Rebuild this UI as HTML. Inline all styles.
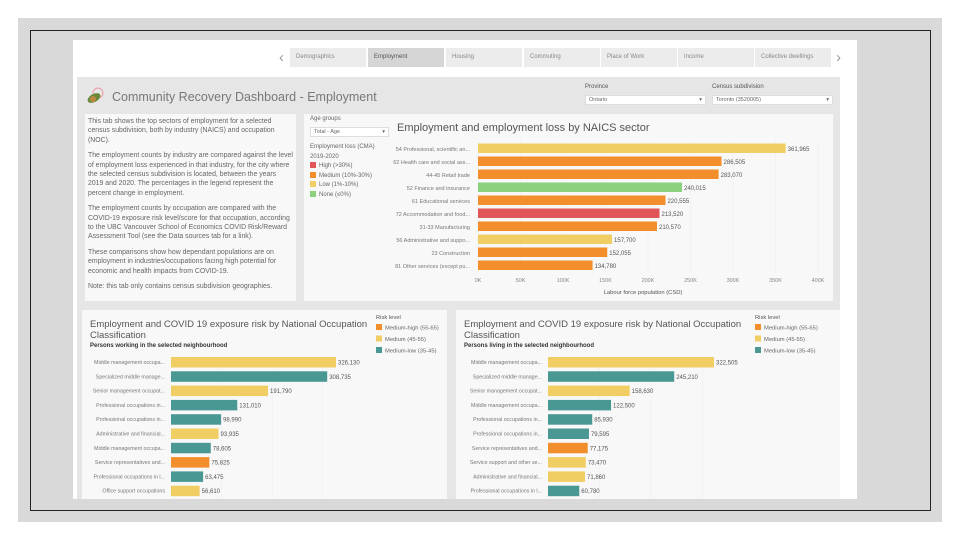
<!DOCTYPE html>
<html><head><meta charset="utf-8">
<style>
*{margin:0;padding:0;box-sizing:border-box}
body{width:960px;height:540px;background:#fff;font-family:"Liberation Sans",sans-serif;position:relative;overflow:hidden;color:#666}
.abs{position:absolute}
#slide{left:18px;top:18px;width:924px;height:504px;background:#d9d9d9}
#frame{left:30px;top:30px;width:901px;height:481px;border:1px solid #222}
#dash{left:73px;top:40px;width:784px;height:459px;background:#fff}
#body{left:77px;top:77px;width:763px;height:422px;background:#e6e6e6}
.tab{top:48px;height:19px;width:76px;background:#ececec;font-size:6px;color:#888;padding:6px 0 0 6px}
.panel{background:#f8f8f8}
.t7{font-size:6.9px;line-height:9.4px;color:#666}
.dd{background:#fff;border:1px solid #ddd;font-size:5.5px;color:#666;padding:1px 3px;height:10px}
.sw{width:6px;height:6px;display:inline-block;margin-right:3px;vertical-align:-1px}
.lg{font-size:6px;color:#666;line-height:10.5px}
svg text{font-family:"Liberation Sans",sans-serif}
</style></head><body>
<div class="abs" id="slide"></div>
<div class="abs" id="frame"></div>
<div class="abs" id="dash"></div>
<div class="abs" style="left:279px;top:49px;font-size:15px;color:#999">&#8249;</div>
<div class="abs tab" style="left:290px">Demographics</div>
<div class="abs tab" style="left:368px;background:#d6d6d6;color:#555">Employment</div>
<div class="abs tab" style="left:446px">Housing</div>
<div class="abs tab" style="left:524px">Commuting</div>
<div class="abs tab" style="left:601px">Place of Work</div>
<div class="abs tab" style="left:678px">Income</div>
<div class="abs tab" style="left:755px">Collective dwellings</div>
<div class="abs" style="left:836px;top:49px;font-size:15px;color:#999">&#8250;</div>
<div class="abs" id="body"></div>
<svg class="abs" style="left:84px;top:86px" width="22" height="22"><circle cx="14" cy="7" r="5" fill="none" stroke="#e9a" stroke-width="1"/><ellipse cx="10" cy="12" rx="7" ry="4" fill="#6a8a3a" transform="rotate(-30 10 12)"/><circle cx="9" cy="13" r="3" fill="#b84"/></svg>
<div class="abs" style="left:112px;top:90px;font-size:12.5px;color:#777">Community Recovery Dashboard - Employment</div>
<div class="abs" style="left:585px;top:84px;font-size:6px;color:#555">Province</div>
<div class="abs dd" style="left:585px;top:95px;width:121px">Ontario<span style="float:right">&#9662;</span></div>
<div class="abs" style="left:712px;top:84px;font-size:6px;color:#555">Census subdivision</div>
<div class="abs dd" style="left:712px;top:95px;width:121px">Toronto (3520005)<span style="float:right">&#9662;</span></div>

<div class="abs panel t7" style="left:85px;top:114px;width:211px;height:187px;padding:3px 3px">
<p>This tab shows the top sectors of employment for a selected census subdivision, both by industry (NAICS) and occupation (NOC).</p><p style="margin-top:6px">The employment counts by industry are compared against the level of employment loss experienced in that industry, for the city where the selected census subdivision is located, between the years 2019 and 2020. The percentages in the legend represent the percent change in employment.</p><p style="margin-top:6px">The employment counts by occupation are compared with the COVID-19 exposure risk level/score for that occupation, according to the UBC Vancouver School of Economics COVID Risk/Reward Assessment Tool (see the Data sources tab for a link).</p><p style="margin-top:6px">These comparisons show how dependant populations are on employment in industries/occupations facing high potential for economic and health impacts from COVID-19.</p><p style="margin-top:6px">Note: this tab only contains census subdivision geographies.</p></div>

<div class="abs panel" style="left:304px;top:114px;width:529px;height:187px"></div>
<div class="abs lg" style="left:310px;top:114px">Age groups</div>
<div class="abs dd" style="left:310px;top:127px;width:79px">Total - Age<span style="float:right">&#9662;</span></div>
<div class="abs lg" style="left:310px;top:143px;line-height:9.5px">Employment loss (CMA)<br>2019-2020<br>
<span><i class="sw" style="background:#e15759"></i>High (&gt;30%)</span><br>
<span><i class="sw" style="background:#f28e2b"></i>Medium (10%-30%)</span><br>
<span><i class="sw" style="background:#f1ce63"></i>Low (1%-10%)</span><br>
<span><i class="sw" style="background:#8cd17d"></i>None (≤0%)</span></div>
<svg class="abs" id="c1" style="left:304px;top:114px" width="529" height="187"></svg>

<div class="abs panel" style="left:82px;top:310px;width:365px;height:189px"></div>
<svg class="abs" id="c2" style="left:82px;top:310px" width="365" height="189"></svg>
<div class="abs panel" style="left:456px;top:310px;width:384px;height:189px"></div>
<svg class="abs" id="c3" style="left:456px;top:310px" width="384" height="189"></svg>

<script>
const naicsCats=["54 Professional, scientific an...","62 Health care and social ass...","44-45 Retail trade","52 Finance and insurance","61 Educational services","72 Accommodation and food...","31-33 Manufacturing","56 Administrative and suppo...","23 Construction","81 Other services (except pu..."];
const naicsVals=[361965,286505,283070,240015,220555,213520,210570,157700,152055,134780];
const naicsRisk=["low","medium","medium","none","medium","high","medium","low","medium","medium"];
const naicsTicks=[0,50000,100000,150000,200000,250000,300000,350000,400000];
const workCats=["Middle management occupa...","Specialized middle manage...","Senior management occupat...","Professional occupations in...","Professional occupations in...","Administrative and financial...","Middle management occupa...","Service representatives and...","Professional occupations in l...","Office support occupations"];
const workVals=[326130,308735,191790,131010,98990,93935,78605,75825,63475,56610];
const workRisk=["med","low","med","low","low","med","low","high","low","med"];
const liveCats=["Middle management occupa...","Specialized middle manage...","Senior management occupat...","Middle management occupa...","Professional occupations in...","Professional occupations in...","Service representatives and...","Service support and other se...","Administrative and financial...","Professional occupations in l..."];
const liveVals=[322505,245210,158630,122500,85930,79595,77175,73470,71860,60780];
const liveRisk=["med","low","med","low","low","low","high","med","med","low"];

const NS="http://www.w3.org/2000/svg";
const C1={high:"#e15759",medium:"#f28e2b",low:"#f1ce63",none:"#8cd17d"};
const C2={high:"#f28e2b",med:"#f1ce63",low:"#499894"};
function mk(svg,tag,attrs,txt){const e=document.createElementNS(NS,tag);for(const k in attrs)e.setAttribute(k,attrs[k]);if(txt!==undefined)e.textContent=txt;svg.appendChild(e);return e;}
function fmt(v){return v.toLocaleString("en-US");}

(function(){
const s=document.getElementById('c1');
const x0=174,xMax=514,dMax=400000;
const x=v=>x0+(v/dMax)*(xMax-x0);
const y=i=>34+i*13;
let t=mk(s,'text',{x:93,y:17,'font-size':11,fill:'#555'},'Employment and employment loss by NAICS sector');


naicsTicks.forEach((v,i)=>{
 const g=mk(s,'line',{x1:x(v),x2:x(v),y1:26,y2:158,stroke:'#eee','stroke-width':0.6});
 
 
 const l=mk(s,'text',{x:x(v),y:168,'font-size':5.5,fill:'#888','text-anchor':'middle'},(v/1000)+'K');
 
 
});
const at=mk(s,'text',{x:x0+165,y:180,'font-size':5.8,fill:'#555','text-anchor':'middle'},'Labour force population (CSD)');


naicsCats.forEach((c,i)=>{
 const l=mk(s,'text',{x:x0-8,y:y(i)+3,'font-size':5.5,fill:'#777','text-anchor':'end'},c);
 
 
 const b=mk(s,'rect',{x:x0,y:y(i)-4.5,width:x(naicsVals[i])-x0,height:9.5,fill:C1[naicsRisk[i]]});
 
 
 const v=mk(s,'text',{x:x(naicsVals[i])+2,y:y(i)+3,'font-size':6,fill:'#555'},fmt(naicsVals[i]));
 
 
});
})();

function occChart(id,cats,vals,risk,sub,x0,xRef,refVal,legX){
 const s=document.getElementById(id);
 const x=v=>x0+(v/refVal)*(xRef-x0);
 const y=i=>52+i*14.3;
 const t1=mk(s,'text',{x:8,y:17,'font-size':9.5,fill:'#555'},'Employment and COVID 19 exposure risk by National Occupation');
 
 
 const t2=mk(s,'text',{x:8,y:28,'font-size':9.5,fill:'#555'},'Classification');
 
 
 const st=mk(s,'text',{x:8,y:37,'font-size':6,fill:'#333','font-weight':'bold'},sub);
 
 
 [100000,200000,300000].forEach(v=>{
  const g=mk(s,'line',{x1:x(v),x2:x(v),y1:44,y2:189,stroke:'#eee','stroke-width':0.6});
  
  
 });
 const lt=mk(s,'text',{x:legX,y:9,'font-size':5.8,fill:'#555'},'Risk level');
 
 
 [["high","Medium-high (55-65)"],["med","Medium (45-55)"],["low","Medium-low (35-45)"]].forEach((e,i)=>{
  const r=mk(s,'rect',{x:legX,y:14+i*11.5,width:6,height:6,fill:C2[e[0]]});
  
  
  const l=mk(s,'text',{x:legX+9,y:19.5+i*11.5,'font-size':5.8,fill:'#666'},e[1]);
  
  
 });
 cats.forEach((c,i)=>{
  const l=mk(s,'text',{x:x0-6,y:y(i)+2,'font-size':5.3,fill:'#777','text-anchor':'end'},c);
  
  
  const b=mk(s,'rect',{x:x0,y:y(i)-5,width:x(vals[i])-x0,height:10.5,fill:C2[risk[i]]});
  
  
  const v=mk(s,'text',{x:x(vals[i])+2,y:y(i)+2.5,'font-size':6,fill:'#555'},fmt(vals[i]));
  
  
 });
}
occChart('c2',workCats,workVals,workRisk,'Persons working in the selected neighbourhood',89,254,326130,294);
occChart('c3',liveCats,liveVals,liveRisk,'Persons living in the selected neighbourhood',92,258,322505,299);
</script>
</body></html>
